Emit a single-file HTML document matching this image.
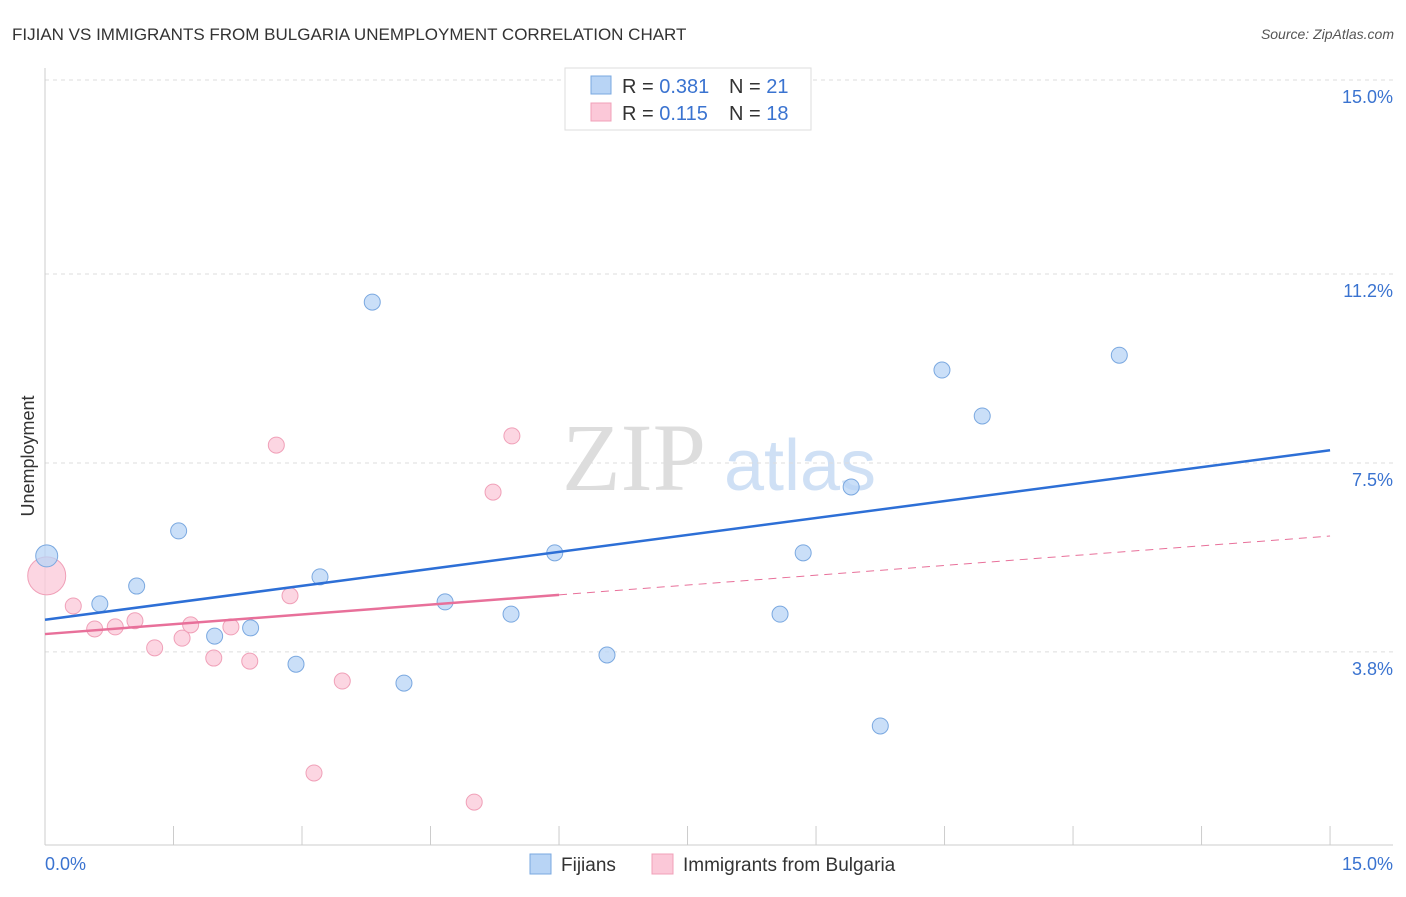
<!DOCTYPE html>
<html><head><meta charset="utf-8"><style>
body{margin:0;background:#fff;font-family:"Liberation Sans",sans-serif;}
svg text{font-family:"Liberation Sans",sans-serif;}
</style></head><body>
<svg id="c" width="1406" height="892" viewBox="0 0 1406 892">
<text x="12" y="40" font-size="17" fill="#333">FIJIAN VS IMMIGRANTS FROM BULGARIA UNEMPLOYMENT CORRELATION CHART</text>
<text x="1394" y="39" font-size="14" fill="#555" text-anchor="end" font-style="italic">Source: ZipAtlas.com</text>
<text x="634" y="490" font-size="96" fill="#ddd" style="font-family:'Liberation Serif',serif" text-anchor="middle">ZIP</text>
<text x="800" y="490" font-size="72" fill="#cfe0f5" text-anchor="middle">atlas</text>
<text transform="translate(34,456) rotate(-90)" font-size="18" fill="#333" text-anchor="middle">Unemployment</text>
<g id="grid"></g><g id="marks"></g>
<g>
<rect x="565" y="68" width="246" height="62" fill="#fff" stroke="#ddd"/>
<rect x="591" y="76" width="20" height="18" fill="#b8d4f5" stroke="#7aa8e0"/>
<rect x="591" y="103" width="20" height="18" fill="#fbc8d8" stroke="#f0a0b8"/>
<text x="622" y="93" font-size="20" fill="#333">R = <tspan fill="#3a73d0">0.381</tspan><tspan x="729">N = </tspan><tspan fill="#3a73d0">21</tspan></text>
<text x="622" y="120" font-size="20" fill="#333">R = <tspan fill="#3a73d0"> 0.115</tspan><tspan x="729">N = </tspan><tspan fill="#3a73d0">18</tspan></text>
</g>
<g>
<rect x="530" y="854" width="21" height="20" fill="#b8d4f5" stroke="#7aa8e0"/>
<text x="561" y="871" font-size="19" fill="#333">Fijians</text>
<rect x="652" y="854" width="21" height="20" fill="#fbc8d8" stroke="#f0a0b8"/>
<text x="683" y="871" font-size="19" fill="#333">Immigrants from Bulgaria</text>
</g>
</svg>
<script>
const yTicks=[15.0,11.2,7.5,3.8];
const yTickLabels=["15.0%","11.2%","7.5%","3.8%"];
const fijiX=[0.02,0.64,1.07,1.56,1.98,2.40,2.93,3.21,3.82,4.19,4.67,5.44,5.95,6.56,8.58,8.85,9.41,9.75,10.47,10.94,12.54];
const fijiY=[5.68,4.74,5.09,6.17,4.11,4.27,3.56,5.27,10.65,3.19,4.78,4.54,5.74,3.74,4.54,5.74,7.03,2.35,9.32,8.42,9.61];
const bulX=[0.02,0.33,0.58,0.82,1.05,1.28,1.60,1.70,1.97,2.17,2.39,2.70,2.86,3.14,3.47,5.01,5.23,5.45];
const bulY=[5.29,4.70,4.25,4.29,4.41,3.88,4.07,4.33,3.68,4.29,3.62,7.85,4.90,1.43,3.23,0.86,6.93,8.03];
const fijiTrend=[4.43,7.75];
const bulTrend=[4.15,6.07];
const X=v=>45+v*85.67, Y=v=>846-v*51.07;
const NS="http://www.w3.org/2000/svg";
function mk(p,t,a){const e=document.createElementNS(NS,t);for(const k in a)e.setAttribute(k,a[k]);p.appendChild(e);return e;}
const g=document.getElementById('grid'), m=document.getElementById('marks');
yTicks.forEach((t,i)=>{
 const l=mk(g,'line',{x1:45,x2:1393,y1:Y(t),y2:Y(t),stroke:'#ddd','stroke-dasharray':'4,4'});
 
 
 const tx=mk(g,'text',{x:1393,y:Y(t)+23,'font-size':18,fill:'#3a73d0','text-anchor':'end'});
 tx.textContent=yTickLabels[i];
 
 
});
mk(g,'line',{x1:45,x2:45,y1:68,y2:845,stroke:'#ccc'});
mk(g,'line',{x1:45,x2:1393,y1:845,y2:845,stroke:'#ccc'});
for(let i=0;i<=10;i++){const t=mk(g,'line',{x1:X(i*1.5),x2:X(i*1.5),y1:826,y2:845,stroke:'#ccc'});
 
 }
const xl=mk(g,'text',{x:45,y:870,'font-size':18,fill:'#3a73d0'});xl.textContent='0.0%';

const xr=mk(g,'text',{x:1393,y:870,'font-size':18,fill:'#3a73d0','text-anchor':'end'});xr.textContent='15.0%';

bulX.forEach((x,i)=>{const c=mk(m,'circle',{cx:X(x),cy:Y(bulY[i]),r:i==0?19:8,fill:'#fbc8d8','fill-opacity':0.75,stroke:'#f0a0b8'});
 
 });
fijiX.forEach((x,i)=>{const c=mk(m,'circle',{cx:X(x),cy:Y(fijiY[i]),r:i==0?11:8,fill:'#b8d4f5','fill-opacity':0.75,stroke:'#7aa8e0'});
 
 });
const ft=mk(m,'line',{x1:X(0),y1:Y(fijiTrend[0]),x2:X(15),y2:Y(fijiTrend[1]),stroke:'#2d6fd6','stroke-width':2.5});


const bx=6.0, by=bulTrend[0]+(bulTrend[1]-bulTrend[0])*bx/15;
const bt=mk(m,'line',{x1:X(0),y1:Y(bulTrend[0]),x2:X(bx),y2:Y(by),stroke:'#e8709a','stroke-width':2.5});


const bd=mk(m,'line',{x1:X(bx),y1:Y(by),x2:X(15),y2:Y(bulTrend[1]),stroke:'#e8709a','stroke-width':1,'stroke-dasharray':'8,6'});


</script>
</body></html>
